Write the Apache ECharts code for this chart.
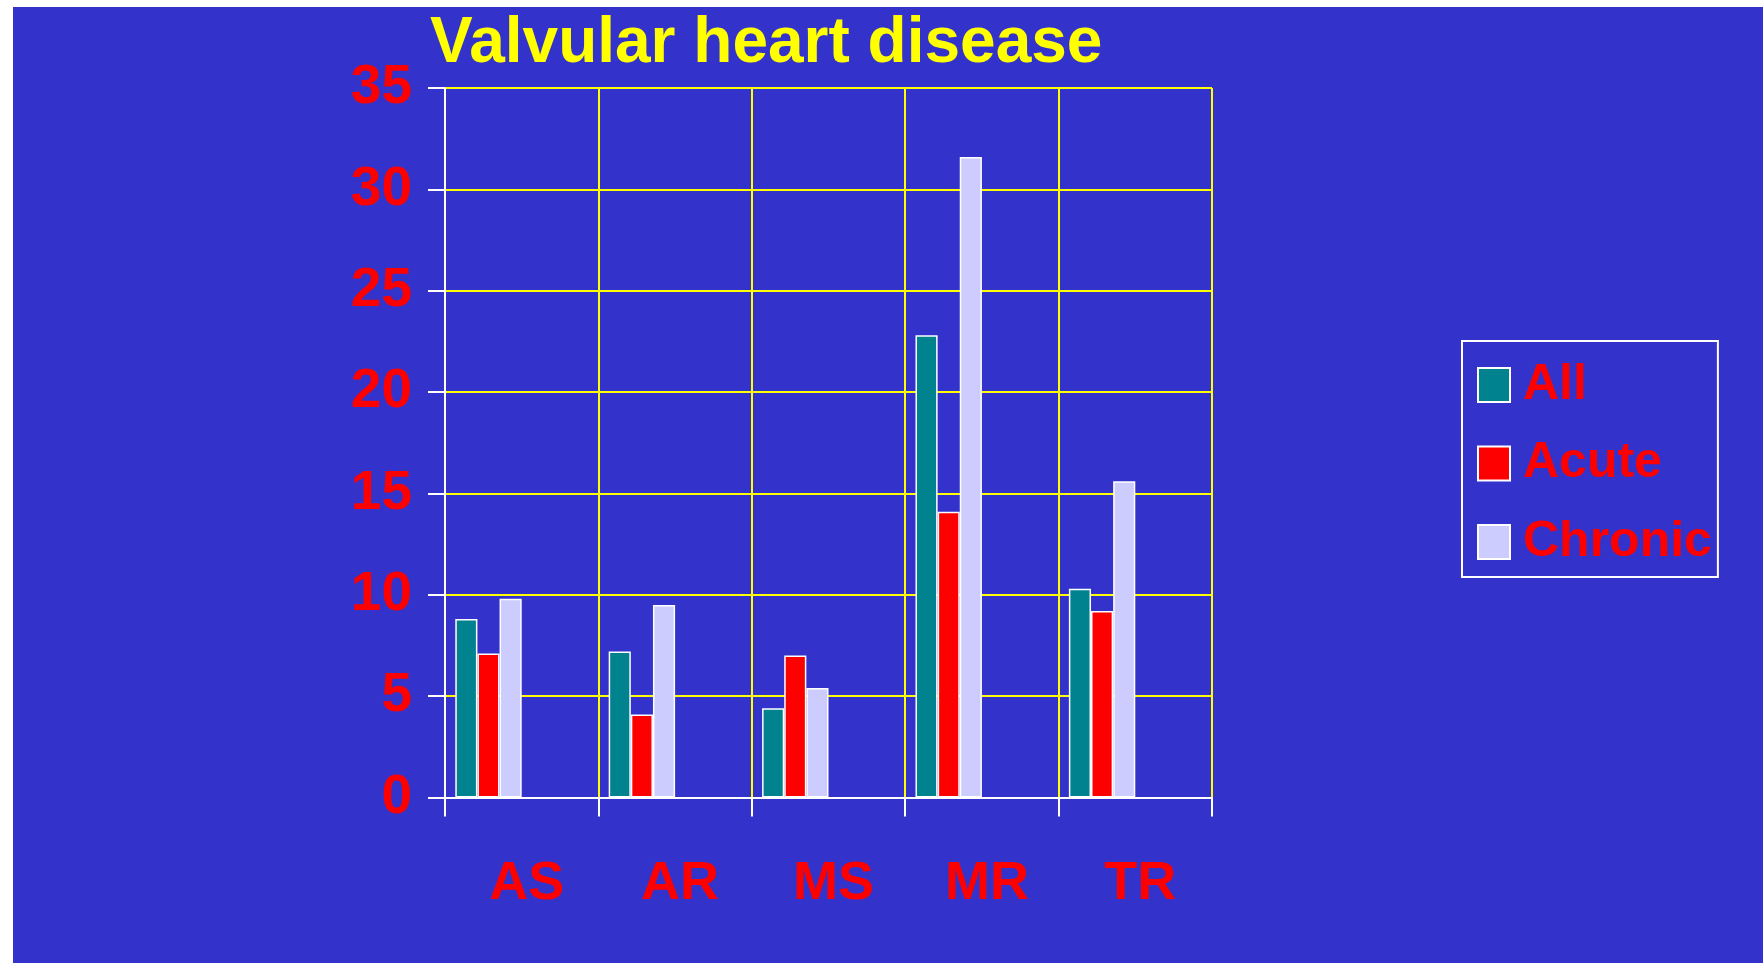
<!DOCTYPE html>
<html>
<head>
<meta charset="utf-8">
<script src="https://cdn.jsdelivr.net/npm/echarts@6/dist/echarts.min.js"></script>
<style>
  html, body { margin: 0; padding: 0; background: #ffffff; width: 1763px; height: 963px; overflow: hidden; }
  #chart { position: absolute; left: 13px; top: 7px; width: 1750px; height: 956px; }
</style>
</head>
<body>
<div id="chart"></div>
<script>
const titleText = 'Valvular heart disease';
const categories = ['AS', 'AR', 'MS', 'MR', 'TR'];
const seriesNames = ['All', 'Acute', 'Chronic'];
const allValues = [8.8, 7.2, 4.4, 22.8, 10.3];
const acuteValues = [7.1, 4.1, 7.0, 14.1, 9.2];
const chronicValues = [9.8, 9.5, 5.4, 31.6, 15.6];
const yTicks = { min: 0, max: 35, interval: 5 };

const FONT = "'Liberation Sans', Arial, sans-serif";
const colors = ['#00838F', '#FF0000', '#CCCCFF'];
const values = [allValues, acuteValues, chronicValues];

const series = seriesNames.map((name, i) => ({
  name: name,
  type: 'bar',
  data: values[i],
  barGap: '0%',
  barCategoryGap: '13.4%',
  itemStyle: { color: colors[i], borderColor: '#ffffff', borderWidth: 1.5 },
  emphasis: { disabled: true },
  animation: false
}));
// empty slots (no data) that keep the bars in the left part of each category, as in the original
for (let k = 0; k < 3; k++) {
  series.push({
    name: 'slot' + k,
    type: 'bar',
    data: categories.map(() => null),
    barGap: '0%',
    barCategoryGap: '13.4%',
    silent: true,
    animation: false
  });
}

const chart = echarts.init(document.getElementById('chart'), null, { renderer: 'canvas' });
chart.setOption({
  backgroundColor: '#3333CC',
  animation: false,
  title: {
    text: titleText,
    left: 412,
    top: 0,
    textStyle: { color: '#FFFF00', fontSize: 64, fontWeight: 'bold', fontFamily: FONT }
  },
  legend: {
    data: seriesNames,
    orient: 'vertical',
    left: 1449,
    top: 334,
    padding: [19, 6, 10, 15],
    itemWidth: 32,
    itemHeight: 34,
    itemGap: 28.5,
    icon: 'rect',
    borderColor: '#ffffff',
    borderWidth: 2,
    textStyle: { color: '#FF0000', fontSize: 50, fontWeight: 'bold', fontFamily: FONT, padding: [0, 0, 0, 8] }
  },
  grid: { left: 432, right: 551, top: 81, bottom: 165.5, containLabel: false },
  xAxis: {
    type: 'category',
    data: categories,
    boundaryGap: true,
    axisLine: { show: true, lineStyle: { color: '#ffffff', width: 2 } },
    axisTick: { show: true, length: 19, lineStyle: { color: '#ffffff', width: 2 } },
    splitLine: { show: true, lineStyle: { color: '#FFFF00', width: 2 } },
    axisLabel: { color: '#FF0000', fontSize: 54, fontWeight: 'bold', fontFamily: FONT, margin: 60, padding: [0, 0, 0, 10] }
  },
  yAxis: {
    type: 'value',
    min: yTicks.min,
    max: yTicks.max,
    interval: yTicks.interval,
    axisLine: { show: true, lineStyle: { color: '#ffffff', width: 2 } },
    axisTick: { show: true, length: 17, lineStyle: { color: '#ffffff', width: 2 } },
    splitLine: { show: true, lineStyle: { color: '#FFFF00', width: 2 } },
    axisLabel: { color: '#FF0000', fontSize: 55, fontWeight: 'bold', fontFamily: FONT, margin: 33 }
  },
  series: series
});
</script>
</body>
</html>
